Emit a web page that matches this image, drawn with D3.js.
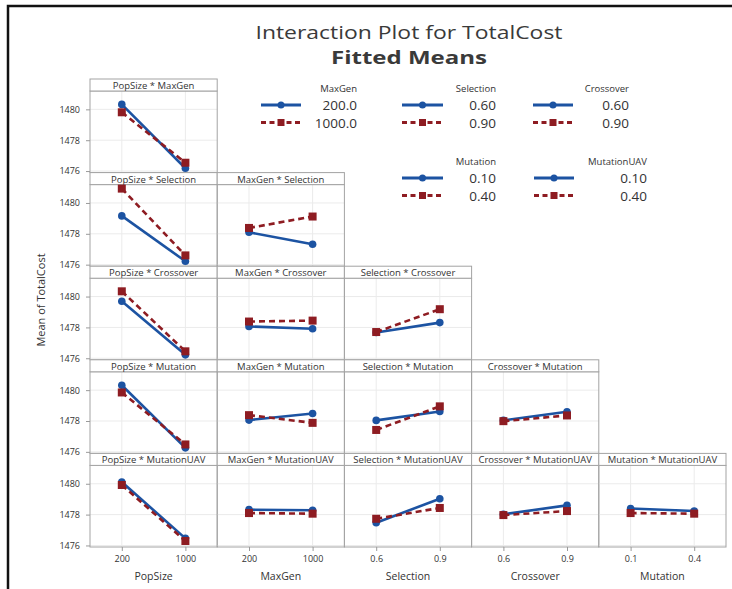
<!DOCTYPE html>
<html>
<head>
<meta charset="utf-8">
<script src="https://cdn.jsdelivr.net/npm/d3@7"></script>
<style>
  body { margin: 0; background: #fff; }
  text { font-family: "Open Sans", "Noto Sans", sans-serif; fill: #333; }
</style>
</head>
<body>
<svg id="chart" width="732" height="589"></svg>
<script>
// Factor on the x axis of each column, and its two level labels
const xFactors = ["PopSize", "MaxGen", "Selection", "Crossover", "Mutation"];
const xTickLabels = [["200", "1000"], ["200", "1000"], ["0.6", "0.9"], ["0.6", "0.9"], ["0.1", "0.4"]];

// Factor traced by the two lines in each row, and its legend labels
const traceFactors = ["MaxGen", "Selection", "Crossover", "Mutation", "MutationUAV"];
const traceLevels = [["200.0", "1000.0"], ["0.60", "0.90"], ["0.60", "0.90"], ["0.10", "0.40"], ["0.10", "0.40"]];

const yTicks = [1476, 1478, 1480];

// Fitted means at the low level of the trace factor (row) for each x factor (column)
const meansLow = [
  [[1480.32, 1476.18]],
  [[1479.16, 1476.22], [1478.10, 1477.32]],
  [[1479.70, 1476.22], [1478.06, 1477.91], [1477.67, 1478.31]],
  [[1480.32, 1476.26], [1478.06, 1478.49], [1478.04, 1478.62], [1478.04, 1478.60]],
  [[1480.11, 1476.46], [1478.32, 1478.28], [1477.47, 1479.03], [1478.02, 1478.60], [1478.40, 1478.23]]
];

// Fitted means at the high level of the trace factor
const meansHigh = [
  [[1479.81, 1476.54]],
  [[1480.93, 1476.60], [1478.38, 1479.12]],
  [[1480.34, 1476.45], [1478.38, 1478.44], [1477.70, 1479.18]],
  [[1479.85, 1476.48], [1478.38, 1477.88], [1477.42, 1478.95], [1477.99, 1478.36]],
  [[1479.92, 1476.29], [1478.10, 1478.06], [1477.73, 1478.43], [1477.97, 1478.23], [1478.10, 1478.06]]
];

// ---- layout ----
const gridLeft = 90, colW = 127.2, gridTop = 79, rowH = 93.6, stripH = 12;
const yDomain = [1475.9, 1481.19];
const BLUE = "#1c53a2", RED = "#8e1c22";
const FRAME = "#a3a3a3", GRID = "#ebebeb";

const svg = d3.select("#chart");

// outer frame
svg.append("path")
  .attr("d", "M8,589 V6 H732")
  .attr("fill", "none").attr("stroke", "#111").attr("stroke-width", 2.5);

// titles
svg.append("text").attr("x", 409).attr("y", 39).attr("text-anchor", "middle")
  .attr("font-size", 18).attr("textLength", 307).attr("lengthAdjust", "spacingAndGlyphs")
  .style("fill", "#3a3a3a").text("Interaction Plot for TotalCost");
svg.append("text").attr("x", 409).attr("y", 64).attr("text-anchor", "middle")
  .attr("font-size", 18).attr("font-weight", "bold").attr("textLength", 156).attr("lengthAdjust", "spacingAndGlyphs")
  .style("fill", "#3a3a3a").text("Fitted Means");

// y axis title
svg.append("text")
  .attr("transform", "translate(40,300) rotate(-90)")
  .attr("text-anchor", "middle").attr("dominant-baseline", "central")
  .attr("font-size", 11).text("Mean of TotalCost");

const xScales = xFactors.map((f, c) =>
  d3.scalePoint().domain(xTickLabels[c])
    .range([gridLeft + c * colW, gridLeft + (c + 1) * colW]).padding(0.5));

function styleAxis(g) {
  g.select(".domain").remove();
  g.selectAll(".tick line").attr("stroke", "#9a9a9a");
  g.selectAll(".tick text").attr("font-size", 9).style("fill", "#333")
    .attr("font-family", "\"Open Sans\", \"Noto Sans\", sans-serif");
}

traceFactors.forEach((tf, r) => {
  const top = gridTop + r * rowH;
  const pTop = top + stripH, pBot = top + rowH;
  const y = d3.scaleLinear().domain(yDomain).range([pBot, pTop]);

  for (let c = 0; c <= r; c++) {
    const x = xScales[c];
    const x0 = gridLeft + c * colW;
    const g = svg.append("g");

    // grid lines
    g.selectAll("line.hg").data(yTicks).join("line")
      .attr("x1", x0).attr("x2", x0 + colW)
      .attr("y1", d => y(d)).attr("y2", d => y(d))
      .attr("stroke", GRID);
    g.selectAll("line.vg").data(xTickLabels[c]).join("line")
      .attr("x1", d => x(d)).attr("x2", d => x(d))
      .attr("y1", pTop).attr("y2", pBot)
      .attr("stroke", GRID);

    // panel frame and strip
    g.append("rect").attr("x", x0).attr("y", pTop).attr("width", colW).attr("height", rowH - stripH)
      .attr("fill", "none").attr("stroke", FRAME);
    g.append("rect").attr("x", x0).attr("y", top).attr("width", colW).attr("height", stripH)
      .attr("fill", "#fff").attr("stroke", FRAME);
    g.append("text").attr("x", x0 + colW / 2).attr("y", top + stripH / 2 + 0.5)
      .attr("text-anchor", "middle").attr("dominant-baseline", "central")
      .attr("font-size", 9.5).text(`${xFactors[c]} * ${tf}`);

    // the two traces
    const series = [
      { vals: meansLow[r][c], color: BLUE, dash: null, marker: "circle" },
      { vals: meansHigh[r][c], color: RED, dash: "6,4", marker: "square" }
    ];
    const line = d3.line().x(d => x(d.k)).y(d => y(d.v));
    series.forEach(s => {
      const pts = s.vals.map((v, i) => ({ k: xTickLabels[c][i], v }));
      g.append("path").datum(pts).attr("d", line)
        .attr("fill", "none").attr("stroke", s.color).attr("stroke-width", 2.6)
        .attr("stroke-dasharray", s.dash);
      if (s.marker === "circle") {
        g.selectAll(null).data(pts).join("circle")
          .attr("cx", d => x(d.k)).attr("cy", d => y(d.v)).attr("r", 3.8)
          .attr("fill", s.color);
      } else {
        g.selectAll(null).data(pts).join("rect")
          .attr("x", d => x(d.k) - 4).attr("y", d => y(d.v) - 4)
          .attr("width", 8).attr("height", 8).attr("fill", s.color);
      }
    });
  }

  // left axis for the row
  svg.append("g").attr("transform", `translate(${gridLeft},0)`)
    .call(d3.axisLeft(y).tickValues(yTicks).tickSize(4).tickPadding(6).tickFormat(d3.format("d")))
    .call(styleAxis);
});

// bottom axes and their titles
const bottomY = gridTop + 5 * rowH;
xFactors.forEach((f, c) => {
  svg.append("g").attr("transform", `translate(0,${bottomY})`)
    .call(d3.axisBottom(xScales[c]).tickSize(4).tickPadding(5))
    .call(styleAxis);
  svg.append("text").attr("x", gridLeft + (c + 0.5) * colW).attr("y", bottomY + 33)
    .attr("text-anchor", "middle").attr("font-size", 10.5).text(f);
});

// legends, one per trace factor
const legendLayout = [
  { cy: 91, lx1: 261, lx2: 301, right: 357 },
  { cy: 91, lx1: 402, lx2: 443, right: 496 },
  { cy: 91, lx1: 533, lx2: 573, right: 629 },
  { cy: 164, lx1: 402, lx2: 443, right: 496 },
  { cy: 164, lx1: 534, lx2: 574, right: 647 }
];
traceFactors.forEach((tf, i) => {
  const L = legendLayout[i];
  const g = svg.append("g");
  g.append("text").attr("x", L.right).attr("y", L.cy - 2.5).attr("text-anchor", "end")
    .attr("dominant-baseline", "central").attr("font-size", 9.5).text(tf);
  const rows = [
    { yy: L.cy + 14, color: BLUE, dash: null, marker: "circle" },
    { yy: L.cy + 31.5, color: RED, dash: "5,3.5", marker: "square" }
  ];
  rows.forEach((row, j) => {
    g.append("line").attr("x1", L.lx1).attr("x2", L.lx2).attr("y1", row.yy).attr("y2", row.yy)
      .attr("stroke", row.color).attr("stroke-width", 2.8).attr("stroke-dasharray", row.dash);
    const mx = (L.lx1 + L.lx2) / 2;
    if (row.marker === "circle") {
      g.append("circle").attr("cx", mx).attr("cy", row.yy).attr("r", 3.5).attr("fill", row.color);
    } else {
      g.append("rect").attr("x", mx - 3.5).attr("y", row.yy - 3.5).attr("width", 7).attr("height", 7)
        .attr("fill", row.color);
    }
    g.append("text").attr("x", L.right).attr("y", row.yy).attr("text-anchor", "end")
      .attr("dominant-baseline", "central").attr("font-size", 13.5).text(traceLevels[i][j]);
  });
});
</script>
</body>
</html>
